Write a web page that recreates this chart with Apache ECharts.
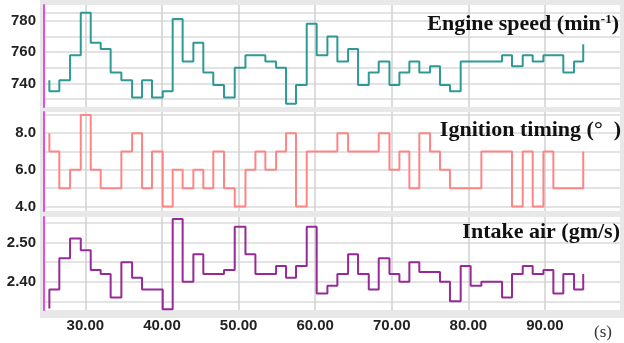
<!DOCTYPE html>
<html>
<head>
<meta charset="utf-8">
<script src="https://cdn.jsdelivr.net/npm/echarts@6/dist/echarts.min.js"></script>
<style>
  html, body { margin: 0; padding: 0; background: #fff; }
  #main { width: 624px; height: 343px; }
</style>
</head>
<body>
<div id="main"></div>
<script>
// sample times (s); the first one is repeated so each trace starts with its opening jump
const time = [25.3, 25.3, 26.6, 28.0, 29.4, 30.7, 32.0, 33.3, 34.7, 36.1, 37.4, 38.7, 40.1, 41.4, 42.7,
  44.1, 45.4, 46.7, 48.1, 49.5, 50.9, 52.2, 53.5, 54.9, 56.2, 57.5, 58.9, 60.2, 61.6, 62.9,
  64.3, 65.6, 67.0, 68.3, 69.7, 71.0, 72.3, 73.6, 75.0, 76.3, 77.6, 79.0, 80.3, 81.7, 83.0,
  84.4, 85.7, 87.1, 88.4, 89.8, 91.1, 92.4, 93.8, 95.0]

// engine speed (min-1)
const engineSpeed = [742, 735, 742, 758, 785, 766, 762, 747, 742, 731, 742, 731, 735, 781, 754,
  766, 747, 739, 731, 750, 758, 758, 754, 750, 727, 739, 778, 758, 770, 754,
  762, 739, 747, 754, 739, 747, 754, 747, 751, 739, 735, 754, 754, 754, 754,
  758, 751, 758, 754, 758, 758, 747, 754, 765]

// ignition timing (deg)
const ignition = [8, 7, 5, 6, 9, 6, 5, 5, 7, 8, 5, 7, 4, 6, 5,
  6, 5, 7, 5, 4, 6, 7, 6, 7, 8, 4, 7, 7, 7, 8,
  7, 7, 7, 8, 6, 7, 5, 8, 7, 6, 5, 5, 5, 7, 7,
  7, 4, 7, 4, 7, 5, 5, 5, 7]

// intake air (gm/s)
const intakeAir = [2.332, 2.38, 2.46, 2.51, 2.48, 2.43, 2.42, 2.36, 2.45, 2.41, 2.38, 2.38, 2.33, 2.56, 2.40,
  2.47, 2.42, 2.42, 2.43, 2.54, 2.47, 2.42, 2.42, 2.44, 2.41, 2.44, 2.54, 2.37, 2.39, 2.42,
  2.47, 2.42, 2.38, 2.46, 2.42, 2.40, 2.45, 2.425, 2.425, 2.40, 2.35, 2.44, 2.39, 2.40, 2.40,
  2.36, 2.42, 2.44, 2.42, 2.43, 2.37, 2.42, 2.38, 2.42]

const xTicks = [30, 40, 50, 60, 70, 80, 90]
const speedGrid = [730, 740, 750, 760, 770, 780, 785]
const speedLabels = [740, 760, 780]
const ignitionGrid = [4, 5, 6, 7, 8, 9]
const ignitionLabels = [4, 6, 8]
const airGrid = [2.35, 2.40, 2.45, 2.50, 2.55]
const airLabels = [2.40, 2.50]

const panels = [
  { top: 5, height: 102, min: 725, max: 790, grid: speedGrid, labels: speedLabels, digits: 0, data: engineSpeed, color: '#2f9a95' },
  { top: 112, height: 99, min: 3.75, max: 9.16, grid: ignitionGrid, labels: ignitionLabels, digits: 1, data: ignition, color: '#ff8585' },
  { top: 217, height: 93, min: 2.328, max: 2.565, grid: airGrid, labels: airLabels, digits: 2, data: intakeAir, color: '#962a98' }
]

const labelFont = { fontFamily: 'Liberation Sans', fontWeight: 'bold', fontSize: 15, color: '#222' }
const titleFont = { fontFamily: 'Liberation Serif', fontWeight: 'bold', fontSize: 22, fill: '#111' }

const option = {
  animation: false,
  backgroundColor: '#fff',
  grid: panels.map(p => ({
    left: 44, right: 4, top: p.top, height: p.height,
    show: true, backgroundColor: '#fff', borderWidth: 0
  })),
  xAxis: panels.map((p, i) => ({
    type: 'value', gridIndex: i, min: 24.6, max: 99.8,
    axisLine: { show: false },
    axisTick: { show: false, customValues: xTicks },
    axisLabel: {
      show: i === 2, customValues: xTicks, margin: 8,
      formatter: v => v.toFixed(2), ...labelFont
    },
    splitLine: { show: true, lineStyle: { color: '#d0d0d0', width: 1.5 } }
  })),
  yAxis: panels.map((p, i) => ({
    type: 'value', gridIndex: i, min: p.min, max: p.max,
    axisLine: { show: true, lineStyle: { color: '#e34de3', width: 2 } },
    axisTick: { show: false, customValues: p.grid },
    axisLabel: {
      customValues: p.labels, margin: 8,
      formatter: v => v.toFixed(p.digits), ...labelFont
    },
    splitLine: { show: true, lineStyle: { color: '#dadada', width: 1.5 } }
  })),
  graphic: [
    { type: 'rect', z: -100, shape: { x: 40, y: 0, width: 584, height: 318 }, style: { fill: '#e8e8e8' } },
    {
      type: 'text', right: 5, top: 13, z: 100,
      style: {
        text: '{t|Engine speed (min}{s|-1}{t|)}',
        rich: {
          t: { ...titleFont },
          s: { ...titleFont, fontSize: 13, padding: [0, 0, 10, 0] }
        }
      }
    },
    {
      type: 'text', right: 3, top: 119, z: 100,
      style: { text: 'Ignition timing (\u00b0  )', ...titleFont }
    },
    {
      type: 'text', right: 4, top: 221, z: 100,
      style: { text: 'Intake air (gm/s)', ...titleFont }
    },
    {
      type: 'text', left: 594, top: 324, z: 100,
      style: { text: '(s)', fontFamily: 'Liberation Serif', fontSize: 17, fill: '#333' }
    }
  ],
  series: panels.map((p, i) => ({
    type: 'line', step: 'end', xAxisIndex: i, yAxisIndex: i,
    showSymbol: false, symbol: 'none',
    lineStyle: { color: p.color, width: 2 },
    data: time.map((t, k) => [t, p.data[k]])
  }))
}

var chartDom = document.getElementById('main')
const chart = echarts.init(chartDom)
chart.setOption(option)
</script>
</body>
</html>
